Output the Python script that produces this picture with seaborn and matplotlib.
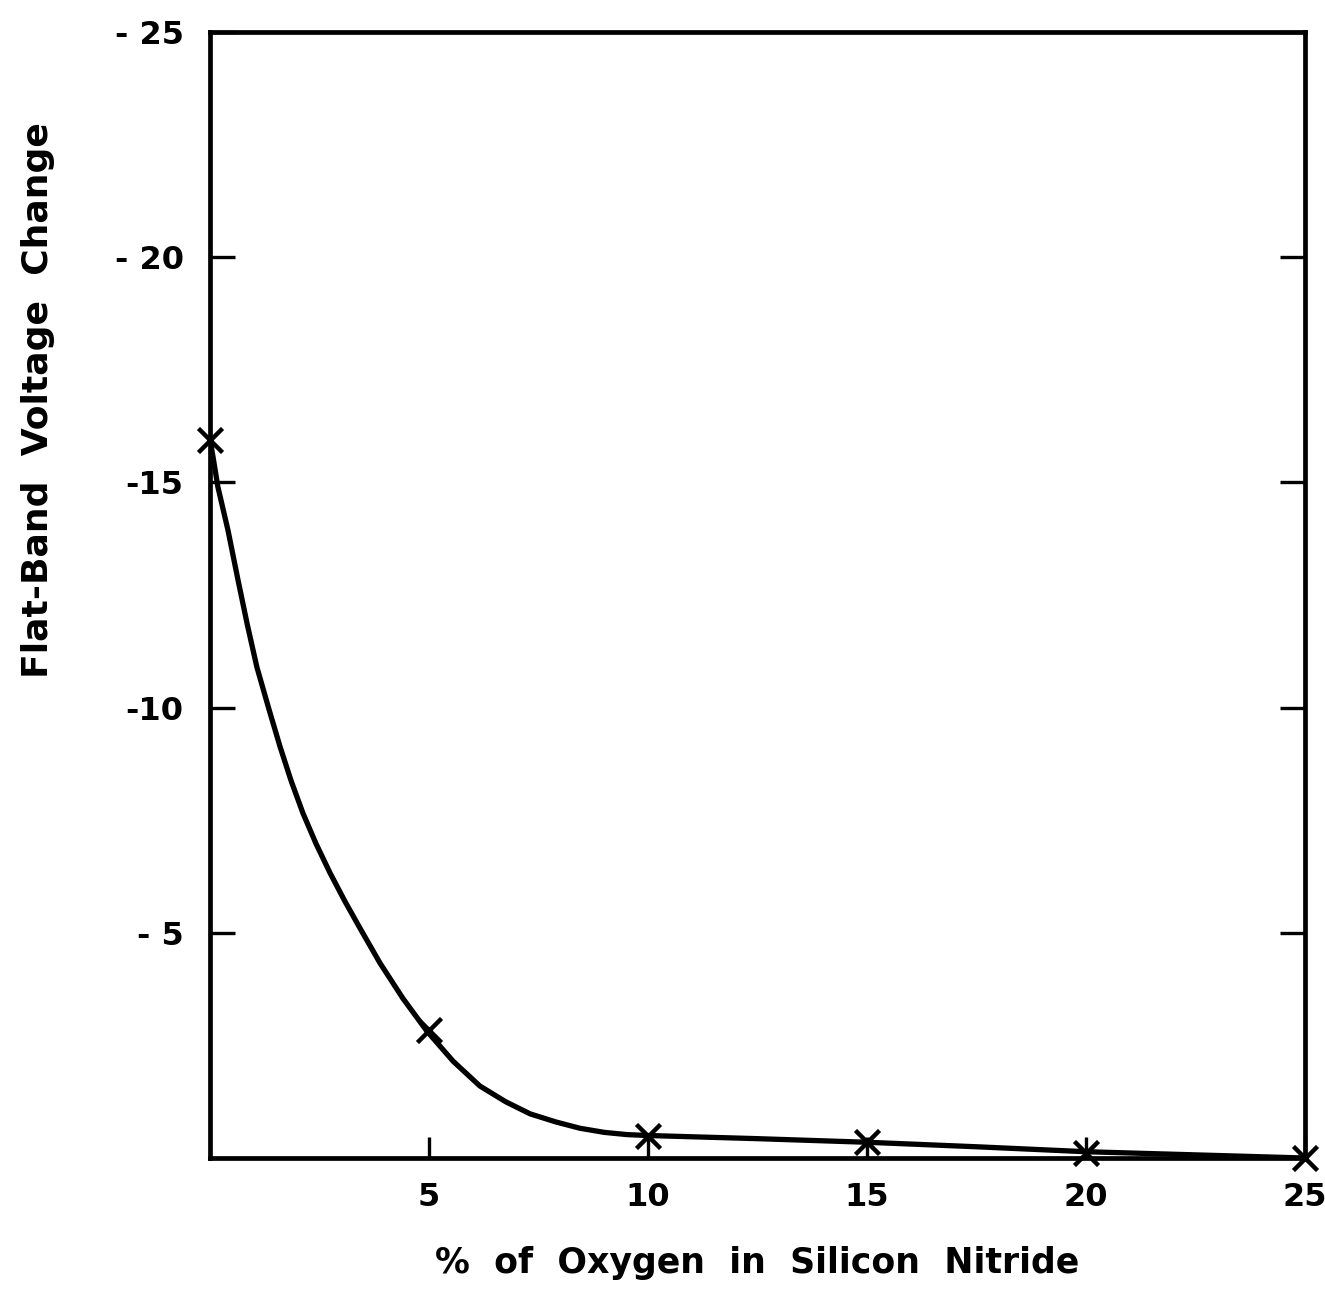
import matplotlib
matplotlib.use("Agg")
import matplotlib.pyplot as plt
import pandas as pd
import seaborn as sns

# measured points (x marks)
oxygen_pct = [0, 5, 10, 15, 20, 25]
flat_band = [-15.95, -2.85, -0.5, -0.35, -0.12, 0.0]

# hand-drawn smooth curve
curve_x = [0, 0.07, 0.18, 0.41, 0.64, 0.85, 1.07, 1.35, 1.6, 1.85, 2.12,
           2.42, 2.74, 3.08, 3.42, 3.88, 4.4, 4.95, 5.55, 6.16, 6.75, 7.31,
           7.9, 8.45, 9.0, 9.52, 10, 12.5, 15, 17.5, 20, 22.5, 25]
curve_y = [-15.95, -15.56, -14.9, -13.94, -12.83, -11.85, -10.9, -9.95,
           -9.13, -8.38, -7.66, -6.98, -6.33, -5.7, -5.11, -4.33, -3.55,
           -2.82, -2.15, -1.6, -1.25, -0.98, -0.8, -0.66, -0.57, -0.52,
           -0.5, -0.43, -0.35, -0.25, -0.14, -0.07, 0.0]

y_ticks = [-25, -20, -15, -10, -5]
y_ticklabels = ["- 25", "- 20", "-15", "-10", "- 5"]
x_ticks = [5, 10, 15, 20, 25]
x_ticklabels = ["5", "10", "15", "20", "25"]

sns.set_style("white")
plt.rcParams["font.family"] = ["DejaVu Sans"]
plt.rcParams["text.color"] = "black"
plt.rcParams["axes.labelcolor"] = "black"
plt.rcParams["xtick.color"] = "black"
plt.rcParams["ytick.color"] = "black"

fig = plt.figure(figsize=(13.25, 12.91), dpi=100)
ax = fig.add_axes([0.1585, 0.103, 0.8264, 0.8722])

curve = pd.DataFrame({"x": curve_x, "y": curve_y})
pts = pd.DataFrame({"x": oxygen_pct, "y": flat_band})

sns.lineplot(data=curve, x="x", y="y", ax=ax, color="black", lw=3.8,
             sort=False, estimator=None, solid_joinstyle="round")
sns.scatterplot(data=pts, x="x", y="y", ax=ax, marker="x", s=300,
                color="black", linewidth=3.2, clip_on=False, zorder=5)

ax.set_xlim(0, 25)
ax.set_ylim(0, -25)

for s in ax.spines.values():
    s.set_linewidth(3.4)
    s.set_color("black")

ax.set_xticks(x_ticks)
ax.set_xticklabels(x_ticklabels, fontweight="bold")
ax.set_yticks(y_ticks)
ax.set_yticklabels(y_ticklabels, fontweight="bold")
ax.tick_params(axis="y", direction="in", length=18, width=2.4, left=True,
               right=True, labelsize=23, pad=19)
ax.tick_params(axis="x", direction="in", length=15, width=2.4, bottom=True,
               top=False, labelsize=23, pad=17)

ax.set_xlabel("%  of  Oxygen  in  Silicon  Nitride", fontsize=25,
              fontweight="bold", labelpad=24)
ax.set_ylabel("Flat-Band  Voltage  Change", fontsize=26, fontweight="bold")
ax.yaxis.set_label_coords(-0.142, 0.673)

fig.savefig("out.png", dpi=100)
